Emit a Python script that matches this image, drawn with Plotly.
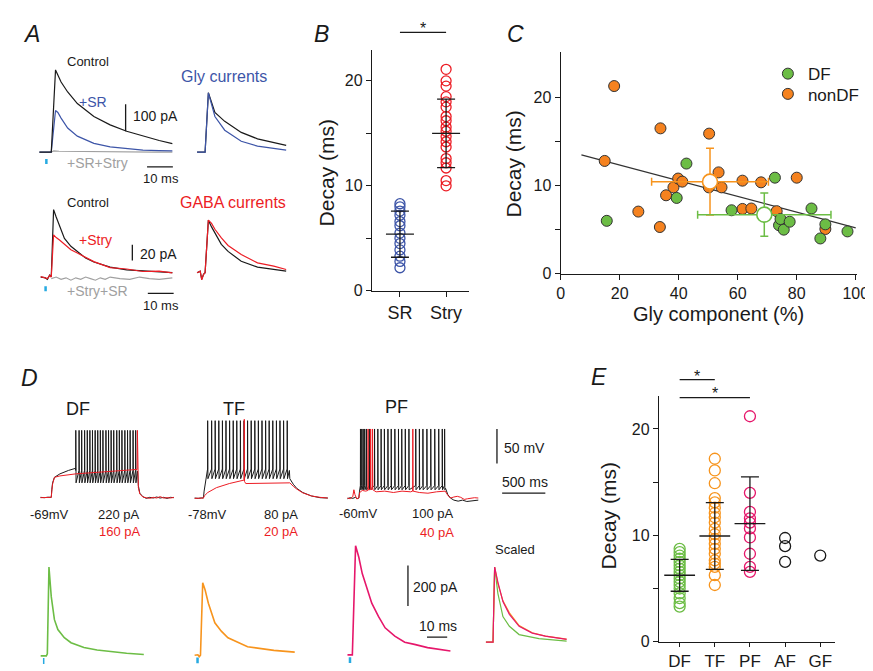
import numpy as np
import plotly.graph_objects as go

W, H = 873, 671
FONT = "Arial, Liberation Sans, sans-serif"
BLACK = "#1a1a1a"
BLUE = "#3d55a8"
RED = "#ec1c24"
GRAY = "#a0a0a0"
CYAN = "#27aae1"
GREEN = "#6cbd45"
ORANGE = "#f7941d"
CORANGE = "#f5821f"
PINK = "#e6176b"

# ======================= DATA =======================
# ---- Panel A: glycinergic currents (ms, pA) ----
gly_t = [-4.6, 0.0, 1.65, 2.55, 3.8, 6.35, 10.1, 16.5, 22.8, 29.2, 35.5, 41.8, 46.9]
gly_control = [0, 0, 305, 285, 260, 223, 180, 132, 101, 77, 59, 43, 31]
gly_sr = [0, 0, 154, 147, 126, 89, 59, 32, 19, 12, 7, 5, 4]
gly_block_t = [0, 1.0, 3.0, 10.0, 20.0, 30.0, 40.0, 46.9]
gly_block = [0, 4, 3, 2, 1, 1, 0, 0]
glyn_t = [-3.1, 0.0, 1.27, 3.8, 7.6, 14.0, 20.3, 26.6, 31.4]
glyn_control = [0, 0, 220, 147, 114, 73, 49, 34, 24.5]
glyn_sr = [0, 0, 220, 132, 81, 40, 22, 12, 7]

# ---- Panel A: GABAergic currents (ms, pA) ----
gaba_t = [-4.1, -2.5, -1.5, -0.6, 0.0, 0.9, 1.9, 3.2, 5.1, 7.6, 10.1, 13.3, 16.5, 22.8, 29.2, 35.5, 41.8, 46.9]
gaba_control = [0, -0.8, -2.9, 2.5, 0.4, 85.4, 76, 64, 49, 39, 32.5, 24, 19, 12.5, 9.2, 7.8, 6.5, 5.6]
gaba_stry = [0.5, -1, -2, 2, 0, 53.4, 50, 47, 41.6, 34.6, 30.4, 24.5, 19.5, 12.0, 10.2, 7.0, 7.4, 5.2]
gaba_block_t = [0, 1.9, 3.8, 5.7, 7.6, 9.5, 11.4, 13.3, 15.2, 17.1, 19.0, 20.9, 22.8, 26.6, 30.4, 34.2, 38.0, 41.8, 46.9]
gaba_block = [-2, 0, -3, -1, -4, -1, -3, 0, -2, -4, -1, -3, 0, -2, -3, 0, -2, -3, -1]
gaban_t = [-3.1, -1.9, -1.3, -0.6, 0.0, 1.27, 2.5, 3.8, 6.3, 8.9, 14.0, 20.3, 26.6, 31.4]
gaban_control = [0, 2, -8.4, -2, 0, 66.6, 58, 50, 36, 27, 14.5, 7, 4, 2]
gaban_stry = [0, 2, -9, -2, 0, 66.6, 62.5, 55, 44, 34.5, 23, 12.5, 8.3, 4]

# ---- Panel B ----
b_groups = ["SR", "Stry"]
b_sr = [2.2, 2.8, 3.3, 3.9, 4.5, 5.0, 5.5, 6.2, 6.6, 7.2, 7.6, 8.0, 8.3]
b_stry = [21.1, 20.0, 19.5, 18.5, 18.0, 17.5, 16.6, 16.2, 15.6, 15.2, 14.7, 14.2, 13.7, 12.6, 12.2, 11.7, 10.5, 10.0]
b_mean = [5.4, 15.0]
b_sd = [2.2, 3.27]

# ---- Panel C ----
df_x = [15.6, 39.3, 42.6, 57.9, 72.6, 74.0, 74.5, 75.6, 77.6, 85.0, 88.0, 89.7, 97.2]
df_y = [6.0, 8.6, 12.5, 7.2, 10.9, 5.5, 6.2, 5.0, 5.9, 7.4, 4.0, 5.6, 4.8]
ndf_x = [14.9, 18.1, 26.3, 33.6, 33.8, 35.7, 38.2, 39.8, 41.2, 50.2, 50.3, 53.5, 54.5,
         61.6, 61.6, 64.6, 67.9, 73.2, 80.0, 89.7]
ndf_y = [12.8, 21.3, 7.05, 5.3, 16.5, 8.9, 9.8, 10.8, 10.45, 9.8, 15.9, 11.5, 9.8,
         10.56, 7.35, 7.4, 10.37, 7.1, 10.9, 5.07]
c_mean_x = [69.0, 50.6]
c_mean_y = [6.7, 10.45]
c_sd_x = [22.6, 19.8]
c_sd_y = [2.45, 3.8]
c_fit_x = [7, 100]

# ---- Panel D: voltage responses (ms, mV) ----
df_pre_t = [-125, -80, -40, 0, 6, 15, 37, 100, 200, 280]
df_pre_v = [-69, -69.5, -68.8, -69, -58, -48, -40, -35, -30, -27]
df_spikes = [284, 322, 352, 386, 417, 447, 477, 508, 538, 568, 598, 633, 663, 693, 723,
             758, 788, 818, 852, 883, 913, 947, 977]
df_levels = [-30, 28, -48]  # threshold, peak, trough
df_post_t = [997, 1000, 1008, 1025, 1060, 1100, 1140, 1180, 1220, 1260, 1300, 1340, 1380, 1420]
df_post_v = [-31, -34, -52, -63, -68, -70.5, -69, -70, -68.5, -70, -69, -70.5, -69, -69.5]
df_red_t = [-125, -80, -40, 0, 6, 15, 37, 100, 284, 500, 700, 900, 994, 997, 1000, 1008,
            1025, 1060, 1100, 1140, 1180, 1220, 1260, 1300, 1340, 1380, 1420]
df_red_v = [-69.5, -69, -69.5, -69, -60, -50, -40, -38, -35, -33, -31, -29.5, -28.6, 28, -40,
            -55, -64, -68.5, -69.5, -70.5, -69, -70, -68, -70, -69.5, -70, -69]

tf_pre_t = [-102, -60, -20, 0, 8, 20, 40]
tf_pre_v = [-78, -78.5, -77.8, -78, -68, -58, -45]
tf_spikes = [49, 95, 136, 178, 220, 261, 303, 345, 386, 428, 470, 511, 553, 595, 636,
             678, 720, 761, 803, 845, 886, 928, 970]
tf_levels = [-36, 34, -50]
tf_post_t = [995, 1000, 1040, 1080, 1150, 1250, 1350, 1440]
tf_post_v = [-38, -50, -58, -64, -70, -75, -77.5, -78]
tf_red_t = [-102, -60, -20, 0, 10, 50, 150, 300, 470, 473, 476, 490, 600, 800, 1000,
            1040, 1080, 1150, 1250, 1350, 1440]
tf_red_v = [-78.5, -78, -78.5, -78, -75, -70, -63, -57, -52, 36, -54, -57, -57, -56.5, -56,
            -61, -65, -70.5, -75, -77, -78]

pf_pre_t = [-132, -100, -70, -40, -20, 0, 8]
pf_pre_v = [-61, -59.5, -60.5, -59, -61, -60, -50]
pf_spikes = [19, 34, 50, 68, 88, 121, 182, 220, 258, 296, 337, 375, 417, 459, 497, 538, 580,
             659, 701, 742, 788, 833, 879, 925, 966, 993]
pf_levels = [-42, 40, -48]
pf_post_t = [1004, 1030, 1061, 1100, 1150, 1200, 1250, 1300, 1340, 1383]
pf_post_v = [-46, -55, -60, -63, -64.5, -63, -65, -64, -63.5, -63]
pf_red_t = [-132, -100, -70, -57, -45, -25, 0, 10, 40, 80, 105, 107, 110, 135, 137, 140, 157,
            159, 162, 200, 300, 400, 500, 600, 623, 625, 628, 700, 800, 900, 1000, 1030, 1061,
            1100, 1140, 1180, 1220, 1260, 1300, 1340, 1383]
pf_red_v = [-60, -61, -58, -48, -55, -61, -60, -52, -49, -50, -49, 40, -48, -47, 40, -48, -47,
            40, -48, -51, -50, -52, -50, -51, -50, 40, -50, -52, -53, -51, -50, -56, -60,
            -58.5, -57.5, -59, -62, -61, -60, -59.5, -60]

# ---- Panel D: evoked currents (ms, pA) ----
dfc_t = [-3.3, -0.5, 0.0, 0.8, 1.94, 3.5, 5.2, 8.4, 11.7, 18.1, 24.6, 31.1, 39.2, 47.7]
dfc_i = [0, 0, 10, 439, 293, 179, 130, 90, 65, 41, 29, 21, 13, 7]
tfc_t = [-2.9, -1.3, -0.6, 0.0, 1.1, 2.3, 3.9, 7.1, 10.3, 13.6, 23.3, 36.3, 46.6]
tfc_i = [0, 2, -7, 0, 358, 322, 257, 160, 119, 86, 42, 24, 15]
pfc_t = [-2.4, -1.0, 0.0, 1.6, 3.2, 4.9, 7.3, 9.6, 12.9, 16.2, 21.0, 25.9, 30.7, 37.2, 48.5]
pfc_i = [0, 1, 0, 540, 483, 402, 329, 256, 190, 134, 93, 63, 52, 36, 19.5]
sc_green_t = [-3.5, 0, 0.8, 2.4, 4.9, 8.1, 12.9, 22.7, 36.4]
sc_green = [0, 0, 1.0, 0.65, 0.34, 0.21, 0.10, 0.045, 0.013]
sc_t = [-3.5, 0, 0.8, 2.4, 4.9, 8.1, 12.9, 19.4, 25.9, 36.4]
sc_orange = [0, 0, 1.0, 0.78, 0.55, 0.39, 0.22, 0.125, 0.08, 0.04]
sc_pink = [0, 0, 1.0, 0.80, 0.54, 0.37, 0.21, 0.12, 0.079, 0.036]

# ---- Panel E ----
e_groups = ["DF", "TF", "PF", "AF", "GF"]
e_df = [8.73, 8.42, 8.1, 7.8, 7.5, 7.18, 6.87, 6.56, 6.25, 5.94, 5.63, 5.33, 5.0, 4.55, 4.09, 3.62, 3.3]
e_tf = [17.2, 16.1, 14.9, 13.5, 13.1, 12.6, 12.1, 11.7, 11.2, 10.6, 10.1, 9.66, 9.2, 8.73,
        8.27, 7.65, 7.34, 7.03, 6.25, 5.33]
e_pf = [21.2, 14.0, 12.2, 11.6, 11.2, 10.65, 9.8, 8.27, 7.03, 6.56]
e_af = [9.75, 8.98, 7.5]
e_gf = [8.1]
e_mean = [6.24, 9.94, 11.1]
e_sd = [1.5, 3.14, 4.4]

# ======================= HELPERS =======================
layout = {}
shapes = []
annotations = []
fig = go.Figure()


def ids(n):
    return (("xaxis" if n == 1 else f"xaxis{n}"), ("yaxis" if n == 1 else f"yaxis{n}"),
            ("x" if n == 1 else f"x{n}"), ("y" if n == 1 else f"y{n}"))


def set_axes(n, box, xr, yr, xkw=None, ykw=None):
    l, r, t, b = box
    xa, ya, xid, yid = ids(n)
    base = dict(visible=False, fixedrange=True)
    xd = dict(base, domain=[max(0, l / W), min(1, r / W)], range=list(xr), anchor=yid)
    yd = dict(base, domain=[max(0, 1 - b / H), min(1, 1 - t / H)], range=list(yr), anchor=xid)
    if xkw:
        xd.update(xkw)
    if ykw:
        yd.update(ykw)
    layout[xa] = xd
    layout[ya] = yd
    return xid, yid


def scaled_axes(n, x0, sx, y0, sy, xr, yr):
    box = (x0 + xr[0] * sx, x0 + xr[1] * sx, y0 - yr[1] * sy, y0 - yr[0] * sy)
    return set_axes(n, box, xr, yr)


def vis(extra):
    d = dict(visible=True, showline=True, linecolor=BLACK, linewidth=1.3, showgrid=False,
             zeroline=False, ticks="outside", ticklen=5, tickwidth=1.3, tickcolor=BLACK,
             tickfont=dict(size=16, color=BLACK, family=FONT))
    d.update(extra)
    return d


def add(x, y, ax, **kw):
    kw.setdefault("showlegend", False)
    fig.add_trace(go.Scatter(x=x, y=y, xaxis=ax[0], yaxis=ax[1], **kw))


def line(ax, x, y, color, width=1.2):
    add(x, y, ax, mode="lines", line=dict(color=color, width=width), hoverinfo="skip")


def seg(ax, x0, x1, y0, y1, color=BLACK, width=1.3):
    shapes.append(dict(type="line", xref=ax[0], yref=ax[1], x0=x0, x1=x1, y0=y0, y1=y1,
                       line=dict(color=color, width=width)))


def txt(x, y, s, size=14, color=BLACK, xanchor="center", angle=0):
    annotations.append(dict(x=x / W, y=1 - y / H, xref="paper", yref="paper", text=s,
                            showarrow=False, textangle=angle, xanchor=xanchor, yanchor="middle",
                            font=dict(size=size, color=color, family=FONT)))


def sig(xref, a, b, ypx, spx):
    shapes.append(dict(type="line", xref=xref, yref="paper", x0=a, x1=b, y0=1 - ypx / H, y1=1 - ypx / H,
                       line=dict(color=BLACK, width=1.3)))
    annotations.append(dict(x=(a + b) / 2, y=1 - spx / H, xref=xref, yref="paper", text="*",
                            showarrow=False, xanchor="center", yanchor="middle",
                            font=dict(size=16, color=BLACK, family=FONT)))


def spiking(pre_t, pre_v, spikes, levels, post_t, post_v):
    thr, peak, trough = levels
    t, v = list(pre_t), list(pre_v)
    for s in spikes:
        t += [s - 1, s, s + 3]
        v += [thr, peak, trough]
    return t + list(post_t), v + list(post_v)


# ======================= PANEL B =======================
axB = set_axes(1, (366.7, 465.7, 43, 286.7), (-0.606, 1.5), (0, 22.9),
               vis(dict(tickvals=[0, 1], ticktext=b_groups, tickfont=dict(size=18, color=BLACK, family=FONT))),
               vis(dict(tickvals=[0, 5, 10, 15, 20], ticktext=["0", "", "10", "", "20"])))
add([0] * len(b_sr), b_sr, axB, mode="markers",
    marker=dict(symbol="circle-open", size=10, color=BLUE, line=dict(width=1.3)))
add([1] * len(b_stry), b_stry, axB, mode="markers",
    marker=dict(symbol="circle-open", size=10, color=RED, line=dict(width=1.3)))
add([0, 1], b_mean, axB, mode="markers",
    marker=dict(symbol="line-ew-open", size=20, color=BLACK, line=dict(width=1.4, color=BLACK)),
    error_y=dict(type="data", array=b_sd, color=BLACK, thickness=1.3, width=9))
sig("x", 0, 1, 24.7, 21)

# ======================= PANEL C =======================
axC = set_axes(2, (559, 861, 44.3, 269.3), (0, 100.5), (0, 25.2),
               vis(dict(tickvals=[0, 20, 40, 60, 80, 100])),
               vis(dict(tickvals=[0, 5, 10, 15, 20], ticktext=["0", "", "10", "", "20"])))
coef = np.polyfit(np.array(df_x + ndf_x), np.array(df_y + ndf_y), 1)
line(axC, c_fit_x, list(np.polyval(coef, c_fit_x)), "#333333", 1.2)
add(ndf_x, ndf_y, axC, mode="markers", name="nonDF", showlegend=True, legend="legend2",
    marker=dict(symbol="circle", size=11, color=CORANGE, line=dict(color="#333333", width=1)))
add(df_x, df_y, axC, mode="markers", name="DF", showlegend=True, legend="legend",
    marker=dict(symbol="circle", size=11, color=GREEN, line=dict(color="#333333", width=1)))
for i, col in [(1, ORANGE), (0, GREEN)]:
    add([c_mean_x[i]], [c_mean_y[i]], axC, mode="markers",
        marker=dict(symbol="circle", size=15, color="white", line=dict(color=col, width=1.6)),
        error_x=dict(type="data", array=[c_sd_x[i]], color=col, thickness=1.5, width=4),
        error_y=dict(type="data", array=[c_sd_y[i]], color=col, thickness=1.5, width=4))

# ======================= PANEL E =======================
axE = set_axes(3, (659, 838, 393.3, 642.3), (-0.59, 4.41), (0, 23.1),
               vis(dict(tickvals=[0, 1, 2, 3, 4], ticktext=e_groups, ticklen=4,
                        tickfont=dict(size=17, color=BLACK, family=FONT))),
               vis(dict(tickvals=[0, 5, 10, 15, 20], ticktext=["0", "", "10", "", "20"])))
for i, (vals, col) in enumerate([(e_df, GREEN), (e_tf, ORANGE), (e_pf, PINK), (e_af, BLACK), (e_gf, BLACK)]):
    add([i] * len(vals), vals, axE, mode="markers",
        marker=dict(symbol="circle-open", size=11, color=col, line=dict(width=1.3)))
add([0, 1, 2], e_mean, axE, mode="markers",
    marker=dict(symbol="line-ew-open", size=22, color=BLACK, line=dict(width=1.4, color=BLACK)),
    error_y=dict(type="data", array=e_sd, color=BLACK, thickness=1.3, width=9))
sig("x3", 0, 1, 376.7, 374)
sig("x3", 0, 2, 395, 391)

# ======================= PANEL A =======================
axA1 = scaled_axes(4, 40, 2.63, 146, 0.273, (-6, 50), (-60, 330))
line(axA1, gly_block_t, gly_block, GRAY)
line(axA1, gly_t, gly_sr, BLUE)
line(axA1, gly_t, gly_control, BLACK)
seg(axA1, 28.8, 28.8, 77, 177)
seg(axA1, 37.1, 47.1, -55, -55)
seg(axA1, -1.9, -1.9, -26, -44, CYAN, 2.5)

axA2 = scaled_axes(5, 196.7, 2.63, 146, 0.273, (-5, 35), (-20, 240))
line(axA2, glyn_t, glyn_control, BLACK)
line(axA2, glyn_t, glyn_sr, BLUE)

axA3 = scaled_axes(6, 40, 2.63, 272.7, 0.8, (-6, 50), (-25, 90))
line(axA3, gaba_block_t, gaba_block, GRAY)
line(axA3, gaba_t, gaba_control, BLACK)
line(axA3, gaba_t, gaba_stry, RED)
seg(axA3, 31.4, 31.4, 20.9, 40.9)
seg(axA3, 37.4, 47.4, -20.7, -20.7)
seg(axA3, -2.2, -2.2, -11.6, -17.9, CYAN, 2.5)

axA4 = scaled_axes(7, 196.7, 2.63, 268.3, 0.8, (-5, 35), (-20, 80))
line(axA4, gaban_t, gaban_control, BLACK)
line(axA4, gaban_t, gaban_stry, RED)

# ======================= PANEL D (voltage) =======================
axV1 = scaled_axes(8, 40, 0.088, 447.7, 0.7, (-130, 1430), (-80, 35))
t, v = spiking(df_pre_t, df_pre_v, df_spikes, df_levels, df_post_t, df_post_v)
line(axV1, t, v, BLACK, 1.0)
line(axV1, df_red_t, df_red_v, RED, 1.0)

axV2 = scaled_axes(9, 195, 0.088, 442.1, 0.7, (-110, 1450), (-85, 40))
t, v = spiking(tf_pre_t, tf_pre_v, tf_spikes, tf_levels, tf_post_t, tf_post_v)
line(axV2, t, v, BLACK, 1.0)
line(axV2, tf_red_t, tf_red_v, RED, 1.0)

axV3 = scaled_axes(10, 353.3, 0.088, 454.7, 0.7, (-140, 2200), (-70, 45))
t, v = spiking(pf_pre_t, pf_pre_v, pf_spikes, pf_levels, pf_post_t, pf_post_v)
line(axV3, t, v, BLACK, 1.0)
line(axV3, pf_red_t, pf_red_v, RED, 1.0)
seg(axV3, 1599, 1599, -10, 40)
seg(axV3, 1659, 2159, -52.9, -52.9)

# ======================= PANEL D (currents) =======================
axI1 = scaled_axes(11, 36, 2.06, 656.7, 0.205, (-5, 50), (-50, 460))
line(axI1, dfc_t, dfc_i, GREEN, 1.6)
seg(axI1, -1.8, -1.8, -11, -40, CYAN, 1.5)

axI2 = scaled_axes(12, 192, 2.06, 656, 0.205, (-5, 50), (-50, 460))
line(axI2, tfc_t, tfc_i, ORANGE, 1.6)
seg(axI2, -1.46, -1.46, -11, -40, CYAN, 2.5)

axI3 = scaled_axes(13, 346.7, 2.06, 655.7, 0.205, (-5, 50), (-50, 560))
line(axI3, pfc_t, pfc_i, PINK, 1.6)
seg(axI3, -1.17, -1.17, -11, -40, CYAN, 2.5)
seg(axI3, 27.5, 27.5, 242, 442)
seg(axI3, 36.9, 46.9, 88, 88)

axI4 = scaled_axes(14, 490, 2.06, 642.7, 76, (-5, 40), (-0.15, 1.1))
line(axI4, sc_green_t, sc_green, GREEN, 1.2)
line(axI4, sc_t, sc_orange, ORANGE, 1.2)
line(axI4, sc_t, sc_pink, PINK, 1.2)

# ======================= TEXT =======================
for s, x, y in [("A", 20, 26.7), ("B", 315, 26.7), ("C", 513.3, 26.7), ("D", 18.3, 375), ("E", 598.3, 374)]:
    txt(x, y, f"<i>{s}</i>", 23)

# Panel A labels
txt(77.5, 53.8, "Control", 13)
txt(82.5, 95, "+SR", 14, BLUE)
txt(121.7, 109, "100 pA", 14, xanchor="left")
txt(215.5, 69, "Gly currents", 16, BLUE)
txt(87.5, 157.3, "+SR+Stry", 14, GRAY)
txt(151.3, 173.3, "10 ms", 13)
txt(77.5, 196.7, "Control", 13)
txt(224.7, 197, "GABA currents", 16, RED)
txt(85, 235.3, "+Stry", 14, RED)
txt(128.3, 249, "20 pA", 14, xanchor="left")
txt(87.5, 286.7, "+Stry+SR", 14, GRAY)
txt(151.3, 301.7, "10 ms", 13)

# axis titles
txt(320, 167.5, "Decay (ms)", 21, angle=-90)
txt(511, 158, "Decay (ms)", 21, angle=-90)
txt(720, 310, "Gly component (%)", 20)
txt(607.5, 515, "Decay (ms)", 21, angle=-90)

# Panel D labels
txt(67.5, 406.7, "DF", 18)
txt(225.8, 406.7, "TF", 18)
txt(391.3, 404, "PF", 18)
txt(38.3, 513.7, "-69mV", 13)
txt(109.5, 513.7, "220 pA", 13)
txt(199.2, 513.7, "-78mV", 13)
txt(274, 513.7, "80 pA", 13)
txt(352.5, 512.7, "-60mV", 13)
txt(428.7, 512.7, "100 pA", 13)
txt(109.8, 530.5, "160 pA", 13, RED)
txt(274, 530.5, "20 pA", 13, RED)
txt(432.5, 531.5, "40 pA", 13, RED)
txt(499.3, 445.8, "50 mV", 14, xanchor="left")
txt(522.2, 480, "500 ms", 14)
txt(406.7, 586.7, "200 pA", 14, xanchor="left")
txt(434, 626, "10 ms", 14)
txt(512, 549.3, "Scaled", 13)

leg_common = dict(xanchor="left", yanchor="middle", font=dict(size=17, color=BLACK, family=FONT),
                  bgcolor="rgba(0,0,0,0)", itemwidth=30, borderwidth=0)
fig.update_layout(
    width=W, height=H, autosize=False,
    margin=dict(l=0, r=0, t=0, b=0),
    paper_bgcolor="white", plot_bgcolor="rgba(0,0,0,0)",
    font=dict(family=FONT, color=BLACK),
    shapes=shapes, annotations=annotations,
    legend=dict(x=770 / W, y=1 - 67 / H, **leg_common),
    legend2=dict(x=770 / W, y=1 - 87.5 / H, **leg_common),
    **layout,
)

fig.write_html("out.html")
